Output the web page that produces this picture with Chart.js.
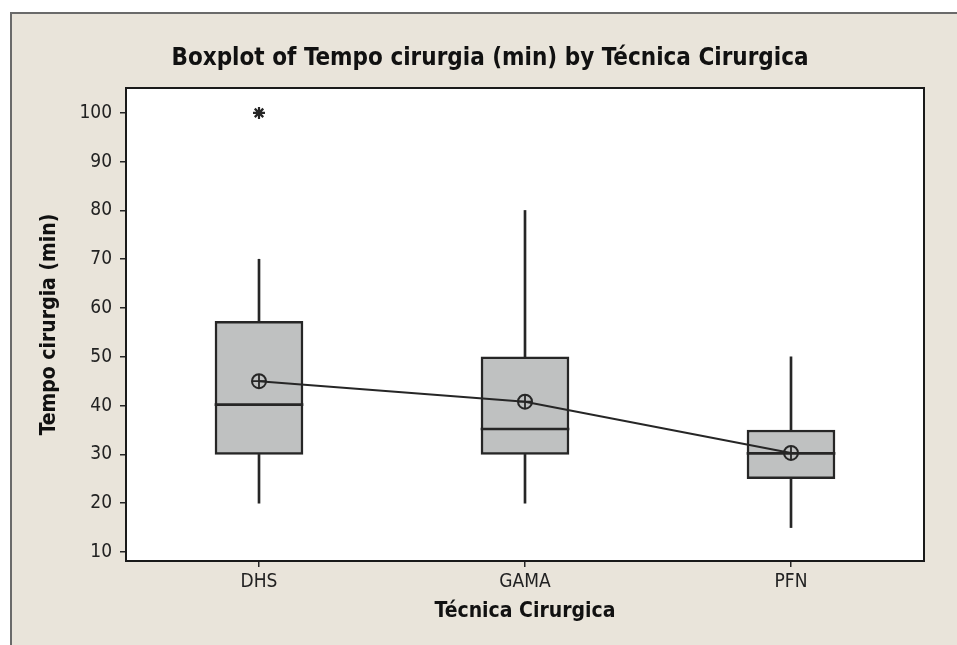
<!DOCTYPE html>
<html>
<head>
    <script src="https://cdn.jsdelivr.net/npm/chart.js@4.4.0/dist/chart.umd.min.js"></script>
    <style>
        body {
            margin: 0;
            background: #ffffff;
        }
        .frame {
            position: absolute;
            left: 10px;
            top: 12px;
            right: 0;
            bottom: 0;
            background: #e9e4da;
            border-left: 2px solid #6a6a6a;
            border-top: 2px solid #6a6a6a;
        }
        .wrap {
            position: absolute;
            left: 0;
            top: 0;
            width: 957px;
            height: 645px;
        }
    </style>
</head>
<body>
    <div class="frame"></div>
    <div class="wrap">
        <canvas id="boxChart" width="957" height="645"></canvas>
    </div>

    <script>
        // Dados
        const categories = ['DHS', 'GAMA', 'PFN'];
        const whiskerLow = [20, 20, 15];
        const q1 = [30, 30, 25];
        const medians = [40, 35, 30];
        const q3 = [57.3, 50, 35];
        const whiskerHigh = [70, 80, 50];
        const means = [45, 40.8, 30.3];
        const outliers = [100, null, null];
        const yTicks = [10, 20, 30, 40, 50, 60, 70, 80, 90, 100];

        const dark = '#262626';
        const boxFill = '#bfc1c1';
        const fontFam = "'DejaVu Sans Condensed', 'DejaVu Sans', sans-serif";

        // fundo branco e moldura da area do grafico
        const plotFrame = {
            id: 'plotFrame',
            beforeDraw(chart) {
                const a = chart.chartArea;
                const ctx = chart.ctx;
                ctx.save();
                ctx.fillStyle = '#ffffff';
                ctx.fillRect(a.left, a.top, a.right - a.left, a.bottom - a.top);
                ctx.restore();
            },
            afterDraw(chart) {
                const a = chart.chartArea;
                const ctx = chart.ctx;
                ctx.save();
                ctx.strokeStyle = '#1a1a1a';
                ctx.lineWidth = 2;
                ctx.strokeRect(a.left, a.top, a.right - a.left, a.bottom - a.top);
                ctx.restore();
            }
        };

        new Chart(document.getElementById('boxChart'), {
            data: {
                labels: categories,
                datasets: [
                    {
                        type: 'bar',
                        data: categories.map((c, i) => [whiskerLow[i], q1[i]]),
                        backgroundColor: dark,
                        borderWidth: 0,
                        barThickness: 2,
                        grouped: false,
                        order: 6
                    },
                    {
                        type: 'bar',
                        data: categories.map((c, i) => [q3[i], whiskerHigh[i]]),
                        backgroundColor: dark,
                        borderWidth: 0,
                        barThickness: 2,
                        grouped: false,
                        order: 6
                    },
                    {
                        type: 'bar',
                        data: categories.map((c, i) => [q1[i], q3[i]]),
                        backgroundColor: boxFill,
                        borderColor: dark,
                        borderWidth: 2.5,
                        borderSkipped: false,
                        barThickness: 88,
                        grouped: false,
                        order: 5
                    },
                    {
                        type: 'bar',
                        data: medians.map(m => [m, m]),
                        backgroundColor: dark,
                        borderWidth: 0,
                        minBarLength: 2,
                        barThickness: 88,
                        grouped: false,
                        order: 4
                    },
                    {
                        type: 'line',
                        data: means,
                        borderColor: dark,
                        borderWidth: 2,
                        pointStyle: 'circle',
                        pointRadius: 7,
                        pointBorderWidth: 2,
                        pointBorderColor: dark,
                        pointBackgroundColor: 'rgba(0,0,0,0)',
                        order: 3
                    },
                    {
                        type: 'line',
                        data: means,
                        showLine: false,
                        pointStyle: 'cross',
                        pointRadius: 7,
                        pointBorderWidth: 1.8,
                        pointBorderColor: dark,
                        order: 2
                    },
                    {
                        type: 'line',
                        data: outliers,
                        showLine: false,
                        pointStyle: 'star',
                        pointRadius: 6,
                        pointBorderWidth: 2.2,
                        pointBorderColor: dark,
                        order: 1
                    }
                ]
            },
            options: {
                responsive: false,
                animation: false,
                layout: {
                    padding: { left: 23, right: 0, top: 0, bottom: 0 }
                },
                plugins: {
                    legend: { display: false },
                    tooltip: { enabled: false },
                    title: {
                        display: true,
                        text: 'Boxplot of Tempo cirurgia (min) by Técnica Cirurgica',
                        color: '#111111',
                        font: { family: fontFam, size: 24, weight: 'bold' },
                        padding: { top: 44, bottom: 15.2 }
                    }
                },
                scales: {
                    x: {
                        type: 'category',
                        offset: true,
                        grid: {
                            offset: false,
                            drawOnChartArea: false,
                            drawTicks: true,
                            tickLength: 6,
                            color: dark,
                            lineWidth: 1.5
                        },
                        border: { display: false },
                        ticks: {
                            color: '#222222',
                            padding: 4,
                            font: { family: fontFam, size: 19 }
                        },
                        title: {
                            display: true,
                            text: 'Técnica Cirurgica',
                            color: '#111111',
                            font: { family: fontFam, size: 21, weight: 'bold' },
                            padding: { top: 0, bottom: 20.4 }
                        },
                        afterFit(scale) { scale.height = 84; }
                    },
                    y: {
                        type: 'linear',
                        min: 8.15,
                        max: 105.1,
                        grid: {
                            drawOnChartArea: false,
                            drawTicks: true,
                            tickLength: 6,
                            color: dark,
                            lineWidth: 1.5
                        },
                        border: { display: false },
                        afterBuildTicks(scale) {
                            scale.ticks = yTicks.map(v => ({ value: v }));
                        },
                        ticks: {
                            color: '#222222',
                            padding: 8,
                            font: { family: fontFam, size: 19 }
                        },
                        title: {
                            display: true,
                            text: 'Tempo cirurgia (min)',
                            color: '#111111',
                            font: { family: fontFam, size: 21, weight: 'bold' },
                            padding: { top: 14.4, bottom: 0 }
                        },
                        afterFit(scale) { scale.width = 103; }
                    },
                    yRight: {
                        type: 'linear',
                        position: 'right',
                        display: true,
                        grid: { display: false },
                        border: { display: false },
                        ticks: { display: false },
                        afterFit(scale) { scale.width = 33; }
                    }
                }
            },
            plugins: [plotFrame]
        });
    </script>
</body>
</html>
